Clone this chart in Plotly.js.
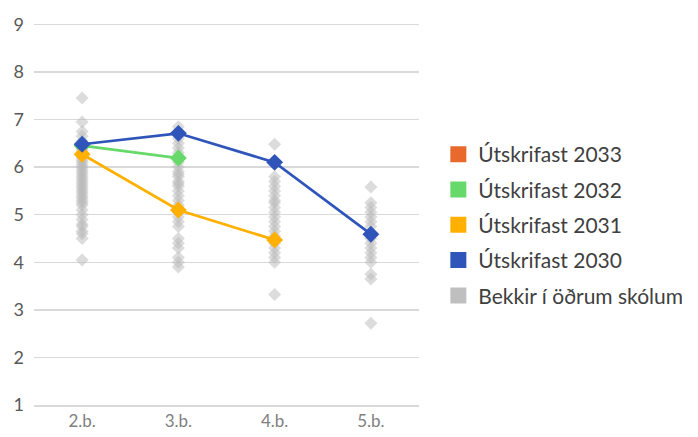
<!DOCTYPE html>
<html><head><meta charset="utf-8">
<script src="https://cdn.plot.ly/plotly-3.0.1.min.js"></script>
<style>html,body{margin:0;padding:0;background:#fff}#chart{width:698px;height:437px}</style>
</head><body><div id="chart"></div>
<script>
const categories = ["2.b.", "3.b.", "4.b.", "5.b."];
const otherSchools2b = [7.45, 6.95, 6.75, 6.65, 6.55, 6.45, 6.4, 6.35, 6.3, 6.2, 6.15, 6.1, 6.05, 6.0, 5.95, 5.9, 5.85, 5.8, 5.75, 5.7, 5.65, 5.6, 5.55, 5.5, 5.45, 5.4, 5.35, 5.3, 5.25, 5.2, 5.1, 5.0, 4.9, 4.8, 4.75, 4.65, 4.6, 4.5, 4.05];
const otherSchools3b = [6.85, 6.75, 6.6, 6.5, 6.4, 6.3, 6.2, 6.1, 6.0, 5.9, 5.85, 5.8, 5.7, 5.65, 5.6, 5.5, 5.4, 5.3, 5.2, 5.05, 4.95, 4.85, 4.75, 4.5, 4.4, 4.3, 4.1, 4.0, 3.9];
const otherSchools4b = [6.48, 5.8, 5.7, 5.6, 5.5, 5.4, 5.3, 5.25, 5.15, 5.05, 4.95, 4.85, 4.75, 4.65, 4.55, 4.4, 4.3, 4.2, 4.1, 4.0, 3.32];
const otherSchools5b = [5.58, 5.25, 5.15, 5.05, 4.95, 4.85, 4.75, 4.6, 4.5, 4.4, 4.3, 4.2, 4.1, 4.0, 3.75, 3.65, 2.72];
const grad2030 = [6.48, 6.71, 6.1, 4.59];
const grad2031 = [6.27, 5.1, 4.47, null];
const grad2032 = [6.45, 6.19, null, null];
const grad2033 = [null, null, null, null];
const seriesNames = ["Útskrifast 2033", "Útskrifast 2032", "Útskrifast 2031", "Útskrifast 2030", "Bekkir í öðrum skólum"];
const seriesColors = ["#E8692B", "#66D96A", "#FFB000", "#2F55BA", "#BFBFBF"];

const otherX = [], otherY = [];
[otherSchools2b, otherSchools3b, otherSchools4b, otherSchools5b].forEach((arr, i) => {
  arr.forEach(v => { otherX.push(categories[i]); otherY.push(v); });
});

const traces = [];
traces.push({x: otherX, y: otherY, type: 'scatter', mode: 'markers', showlegend: false,
  marker: {symbol: 'diamond', size: 10, color: 'rgba(185,185,185,0.5)', line: {width: 0}}, hoverinfo: 'y'});
const lineData = [grad2033, grad2032, grad2031, grad2030];
lineData.forEach((d, i) => {
  traces.push({x: categories, y: d, type: 'scatter', mode: 'lines+markers', showlegend: false,
    line: {color: seriesColors[i], width: 2.7},
    marker: {symbol: 'diamond', size: 13, color: seriesColors[i]}});
});
seriesNames.forEach((n, i) => {
  traces.push({x: [null], y: [null], type: 'scatter', mode: 'markers', name: n, legendrank: i + 1,
    legendgroup: 'g' + i,
    marker: {symbol: 'square', size: 16, color: seriesColors[i]}});
});

const layout = {
  width: 698, height: 437,
  margin: {l: 34, r: 279, t: 22, b: 32},
  paper_bgcolor: '#fff', plot_bgcolor: '#fff',
  font: {family: 'Lato, "Open Sans", sans-serif', color: '#595959'},
  xaxis: {type: 'category', categoryarray: categories, range: [-0.5, 3.5], showgrid: false,
    showline: true, linecolor: '#d9d9d9', linewidth: 1.5, ticks: '', zeroline: false,
    tickfont: {size: 17, color: '#7f7f7f'}, fixedrange: true},
  yaxis: {range: [1, 9.05], dtick: 1, tick0: 1, showgrid: true, gridcolor: '#d9d9d9', gridwidth: 1.5,
    zeroline: false, showline: false, ticks: '', ticklabelstandoff: 9,
    tickfont: {size: 18, color: '#595959'}, fixedrange: true},
  legend: {xref: 'container', yref: 'container', x: 0.628, xanchor: 'left', y: 0.485, yanchor: 'middle',
    traceorder: 'grouped', tracegroupgap: 5, font: {size: 21, color: '#404040'}, itemwidth: 30,
    bgcolor: 'rgba(0,0,0,0)'},
  showlegend: true
};
Plotly.newPlot('chart', traces, layout, {displayModeBar: false, staticPlot: true});
</script></body></html>
